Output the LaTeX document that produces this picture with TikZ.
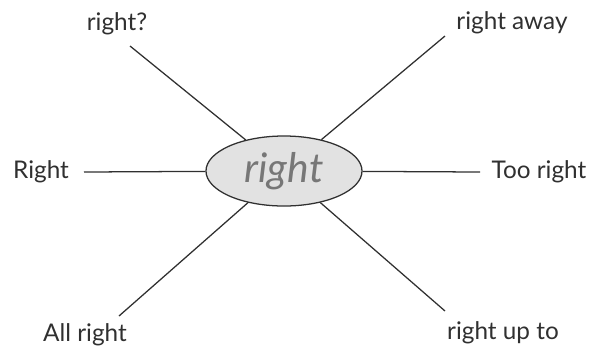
\documentclass[tikz,border=0pt]{standalone}
\usepackage{fontspec}
\setmainfont{Lato}
\usepackage{xcolor}
\usepackage{tikz}
\usetikzlibrary{shapes.geometric, positioning}
\definecolor{inkgray}{HTML}{303030}
\definecolor{hubfill}{HTML}{E2E2E2}
\definecolor{hubtext}{HTML}{777777}
\tikzstyle{hub} = [ellipse, draw=inkgray, line width=0.9pt, fill=hubfill,
    minimum width=3.9cm, minimum height=1.75cm, inner sep=0pt,
    text=hubtext, font=\fontsize{29}{31}\selectfont\itshape]
\tikzstyle{word} = [text=inkgray, inner sep=0pt, font=\fontsize{17.3}{19}\selectfont]
\tikzstyle{spoke} = [draw=inkgray, line width=0.9pt]

\begin{document}
\begin{tikzpicture}[x=0.025cm, y=-0.025cm]
  \useasboundingbox (0,0) rectangle (600,351);
  % Centre word
  \node[hub] (core) at (284,171) {right};

  % Surrounding phrases
  \node[word] (w1) at (117,24) {right?};
  \node[word] (w2) at (512,23) {right away};
  \node[word] (w3) at (41,172) {Right};
  \node[word] (w4) at (539,172) {Too right};
  \node[word] (w5) at (85,335) {All right};
  \node[word] (w6) at (503,333) {right up to};

  % Free ends of the spokes
  \coordinate (e1) at (130,46);
  \coordinate (e2) at (445,36);
  \coordinate (e3) at (84,172);
  \coordinate (e4) at (480,172);
  \coordinate (e5) at (119,316);
  \coordinate (e6) at (445,311);

  \draw[spoke](core)--(e1);
  \draw[spoke](core)--(e2);
  \draw[spoke](core)--(e3);
  \draw[spoke](core)--(e4);
  \draw[spoke](core)--(e5);
  \draw[spoke](core)--(e6);
\end{tikzpicture}
\end{document}
